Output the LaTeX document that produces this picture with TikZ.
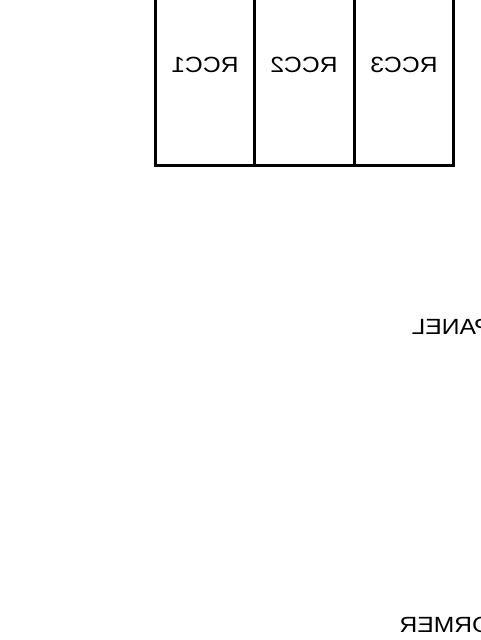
\documentclass[tikz,border=0pt]{standalone}
\usepackage{fontspec}
\setmainfont{Liberation Sans}

\begin{document}
\begin{tikzpicture}[x=0.5pt, y=0.5pt, line width=1.5pt,
    mirrored/.style={font=\fontsize{11}{13}\selectfont, xscale=-1.12, inner sep=0pt}]
\useasboundingbox (0,0) rectangle (480,640);
\clip (0,0) rectangle (480,640);
\coordinate (top1) at (155,650);
\coordinate (top2) at (254,650);
\coordinate (top3) at (354,650);
\coordinate (top4) at (453,650);
\coordinate (bot1) at (155,474);
\coordinate (bot2) at (254,474);
\coordinate (bot3) at (354,474);
\coordinate (bot4) at (453,474);
\draw (top1) -- (bot1) -- (bot4) -- (top4);
\draw (top2) -- (bot2);
\draw (top3) -- (bot3);
\node[mirrored, anchor=base] (rcc1) at (205,567) {RCC1};
\node[mirrored, anchor=base] (rcc2) at (304,567) {RCC2};
\node[mirrored, anchor=base] (rcc3) at (404,567) {RCC3};
\node[mirrored, anchor=base east] (panel) at (410,305) {PANEL};
\node[mirrored, anchor=base east] (transformer) at (398,8) {ORMER};
\end{tikzpicture}
\end{document}
